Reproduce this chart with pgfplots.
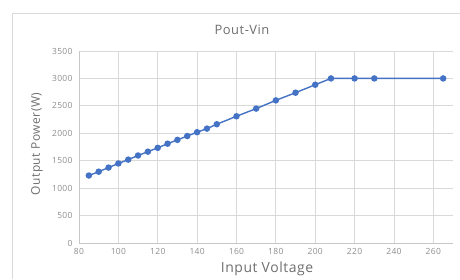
\documentclass[border=0pt]{standalone}
\usepackage{pgfplots}
\pgfplotsset{compat=1.18}
\usepackage{fontspec}
\setmainfont{Open Sans}[LetterSpace=4]
\definecolor{xlblue}{HTML}{4472C4}
\definecolor{gridgray}{HTML}{D9D9D9}
\definecolor{ticktxt}{HTML}{8C8C8C}
\definecolor{labtxt}{HTML}{6E6E6E}
\begin{document}
\begin{tikzpicture}[x=1bp,y=1bp]
\useasboundingbox (0,0) rectangle (460,279);
\draw[gridgray,line width=0.8bp] (12,0) -- (12,266) -- (460,266);
\begin{axis}[
  at={(79bp,36bp)}, anchor=south west,
  scale only axis, width=374bp, height=192bp,
  xmin=80, xmax=270, ymin=0, ymax=3500,
  xtick={80,100,...,260}, ytick={0,500,...,3500},
  grid=major, major grid style={gridgray,line width=0.8bp},
  axis lines=left, axis line style={-, gridgray!80!gray, line width=0.8bp},
  major tick length=0pt,
  /pgf/number format/assume math mode=true,
  /pgf/number format/1000 sep={},
  ticklabel style={font=\fontsize{8.5}{9}\selectfont, text=ticktxt},
  xticklabel style={yshift=-2bp},
  yticklabel style={xshift=-3bp},
  clip=false,
]
\addplot[xlblue, line width=1.4bp, mark=*, mark size=2.5bp, mark options={fill=xlblue, draw=xlblue}] coordinates {
(85,1230) (90,1300) (95,1375) (100,1450) (105,1520) (110,1595) (115,1665)
(120,1735) (125,1810) (130,1880) (135,1950) (140,2020) (145,2085) (150,2165)
(160,2310) (170,2450) (180,2600) (190,2740) (200,2885) (208,3000)
(220,3000) (230,3000) (265,3000)
};
\end{axis}
\node[text=labtxt, font=\fontsize{13}{14}\selectfont] at (242,249) {Pout-Vin};
\node[text=labtxt, font=\fontsize{14}{15}\selectfont] at (267,10) {Input Voltage};
\node[text=labtxt, font=\fontsize{12}{13}\selectfont, rotate=90] at (37,135) {Output Power(W)};
\end{tikzpicture}
\end{document}
